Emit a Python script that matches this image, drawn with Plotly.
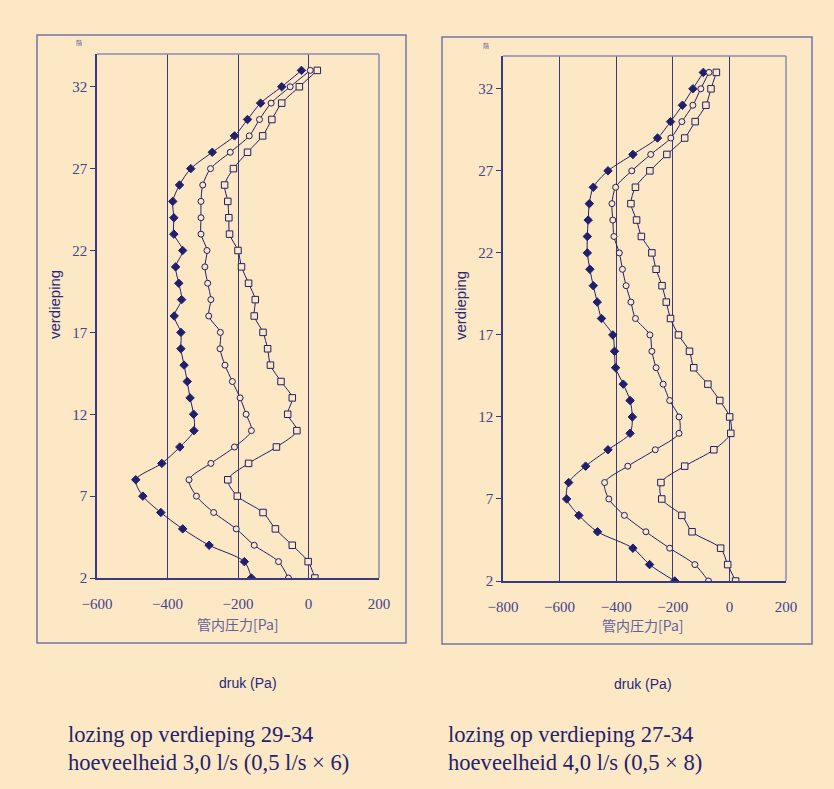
import plotly.graph_objects as go

floors = list(range(2, 34))

# Left chart: lozing op verdieping 29-34 (3,0 l/s)
left_diamond = [-162, -182, -282, -357, -419, -470, -490, -416, -365, -325, -326, -336, -344, -353, -362, -362,
                -381, -360, -368, -377, -357, -382, -382, -385, -366, -334, -273, -210, -173, -136, -76, -20]
left_circle = [-57, -85, -154, -205, -269, -318, -339, -277, -210, -162, -177, -194, -216, -237, -251, -250,
               -283, -277, -286, -294, -288, -305, -305, -305, -300, -278, -222, -168, -139, -106, -52, 5]
left_square = [18, -1, -46, -94, -129, -202, -229, -170, -91, -33, -59, -46, -78, -108, -116, -129,
               -154, -151, -170, -190, -200, -224, -226, -229, -238, -213, -173, -130, -104, -76, -26, 25]

# Right chart: lozing op verdieping 27-34 (4,0 l/s)
right_diamond = [-193, -282, -341, -466, -532, -575, -568, -508, -429, -351, -343, -351, -375, -402, -406, -412,
                 -452, -467, -481, -493, -502, -502, -499, -495, -481, -429, -341, -254, -208, -166, -129, -92]
right_circle = [-74, -122, -211, -295, -371, -426, -441, -359, -262, -178, -178, -211, -234, -259, -274, -281,
                -332, -348, -365, -378, -389, -408, -412, -415, -402, -345, -278, -207, -168, -129, -101, -72]
right_square = [22, -6, -31, -132, -168, -239, -242, -158, -55, 5, 1, -34, -76, -126, -141, -180,
                -208, -223, -238, -259, -274, -311, -328, -348, -332, -281, -221, -158, -121, -83, -65, -46]

ytick_vals = [2, 7, 12, 17, 22, 27, 32]
left_xticks = [-600, -400, -200, 0, 200]
right_xticks = [-800, -600, -400, -200, 0, 200]

BG = "#FDE8C5"
NAVY = "#1F1F6E"
GRID = "#3A3A80"
LIGHT = "#8A8AB4"
TICKTXT = "#44448E"
W, H = 834, 789

def px(x):
    return x / W

def py(y):
    return 1 - y / H

fig = go.Figure()

def add_series(xvals, sym, xa, ya, size, filled):
    fig.add_trace(go.Scatter(
        x=xvals, y=floors, xaxis=xa, yaxis=ya, mode="lines+markers",
        line=dict(color=NAVY, width=1, shape="spline", smoothing=0.8),
        marker=dict(symbol=sym, size=size, color=NAVY if filled else BG,
                    line=dict(color=NAVY, width=1)),
        showlegend=False, hoverinfo="x+y"))

add_series(left_diamond, "diamond", "x", "y", 6.5, True)
add_series(left_circle, "circle", "x", "y", 6, False)
add_series(left_square, "square", "x", "y", 6.5, False)
add_series(right_diamond, "diamond", "x2", "y2", 6.5, True)
add_series(right_circle, "circle", "x2", "y2", 6, False)
add_series(right_square, "square", "x2", "y2", 6.5, False)

tickfont = dict(family="Liberation Serif", size=15, color=TICKTXT)

def xaxis(domain, rng, ticks, anchor):
    return dict(domain=domain, range=rng, tickvals=ticks, anchor=anchor, automargin=False,
                showgrid=True, gridcolor=GRID, gridwidth=1.3, zeroline=False,
                showline=True, linecolor=GRID, linewidth=1.5, ticks="",
                ticklabelstandoff=11, tickfont=tickfont, fixedrange=True)

def yaxis(domain, anchor):
    return dict(domain=domain, range=[2, 34], tickvals=ytick_vals, anchor=anchor, automargin=False,
                showgrid=False, zeroline=False, showline=True, linecolor=GRID, linewidth=1.5,
                ticks="outside", ticklen=5, tickcolor=GRID, tickfont=tickfont, fixedrange=True)

fig.update_layout(
    template="none",
    width=W, height=H, margin=dict(l=0, r=0, t=0, b=0, pad=0), autosize=False,
    paper_bgcolor=BG, plot_bgcolor=BG,
    xaxis=xaxis([px(97), px(379)], [-600, 200], left_xticks, "y"),
    yaxis=yaxis([py(578), py(54)], "x"),
    xaxis2=xaxis([px(503), px(786)], [-800, 200], right_xticks, "y2"),
    yaxis2=yaxis([py(581), py(56)], "x2"),
)

shapes = []
# outer frames
shapes.append(dict(type="rect", xref="paper", yref="paper", x0=px(37), x1=px(406), y0=py(643), y1=py(35),
                   line=dict(color="#7474AC", width=1.5), layer="below"))
shapes.append(dict(type="rect", xref="paper", yref="paper", x0=px(442), x1=px(812), y0=py(644), y1=py(37),
                   line=dict(color="#7474AC", width=1.5), layer="below"))
# lighter top and right plot borders
for xr, yr in (("x domain", "y domain"), ("x2 domain", "y2 domain")):
    shapes.append(dict(type="line", xref=xr, yref=yr, x0=0, x1=1, y0=1, y1=1,
                       line=dict(color=LIGHT, width=1.5), layer="above"))
    shapes.append(dict(type="line", xref=xr, yref=yr, x0=1, x1=1, y0=0, y1=1,
                       line=dict(color=LIGHT, width=1.5), layer="above"))
fig.update_layout(shapes=shapes)

ann = []
def text(x, y, t, size, color, family, angle=0, xanchor="center", align="center"):
    ann.append(dict(x=px(x), y=py(y), xref="paper", yref="paper", text=t, showarrow=False,
                    font=dict(size=size, color=color, family=family), textangle=angle,
                    xanchor=xanchor, yanchor="middle", align=align))

sans = "Liberation Sans, Arial, sans-serif"
serif = "Liberation Serif, Times New Roman, serif"
cjk = "Noto Sans CJK JP, sans-serif"

text(55, 305, "verdieping", 15, "#28287A", sans, angle=-90)
text(460, 306, "verdieping", 15, "#28287A", sans, angle=-90)
text(238, 624, "管内圧力[Pa]", 14, "#62629A", cjk)
text(643, 625, "管内圧力[Pa]", 14, "#62629A", cjk)
text(248, 683, "druk (Pa)", 14, "#28287A", sans)
text(643, 684, "druk (Pa)", 14, "#28287A", sans)
text(79, 42, "階", 6, "#5A5A9A", cjk)
text(486, 45, "階", 6, "#5A5A9A", cjk)
text(66, 734, "lozing op verdieping 29-34", 22.6, "#23236E", serif, xanchor="left")
text(66, 762, "hoeveelheid 3,0 l/s (0,5 l/s × 6)", 22.6, "#23236E", serif, xanchor="left")
text(446, 734, "lozing op verdieping 27-34", 22.6, "#23236E", serif, xanchor="left")
text(446, 762, "hoeveelheid 4,0 l/s (0,5 × 8)", 22.6, "#23236E", serif, xanchor="left")
fig.update_layout(annotations=ann)

fig.write_html("out.html", config={"displayModeBar": False},
               post_script="document.body.style.margin='0px';")
